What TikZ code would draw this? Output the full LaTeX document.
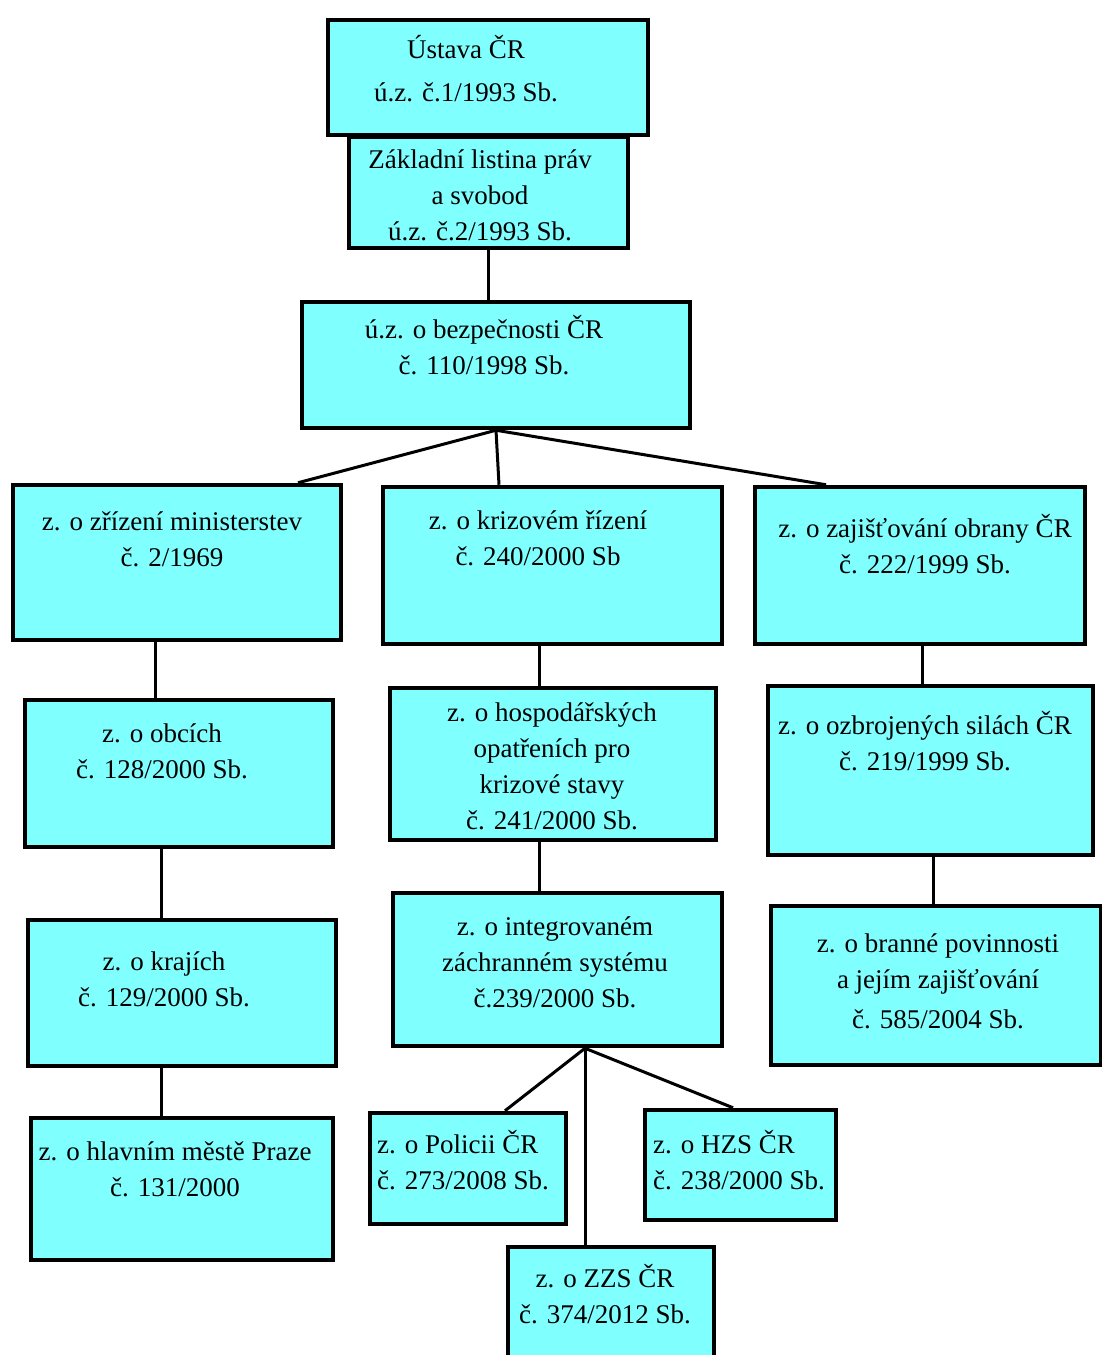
\documentclass[tikz,border=0pt]{standalone}
\usepackage{fontspec}
\setmainfont{Liberation Serif}
\definecolor{boxcyan}{RGB}{128,255,255}
\begin{document}
\begin{tikzpicture}[x=1pt,y=-1pt,
    box/.style={draw, line width=4.5pt, fill=boxcyan, inner sep=0pt},
    txt/.style={align=center, inner sep=0pt, font=\fontsize{27}{36}\selectfont},
    ltxt/.style={txt, align=left, anchor=west},
    link/.style={line width=3pt}]
  \useasboundingbox (0,0) rectangle (1102,1355);
  \clip (0,0) rectangle (1102,1355);
  \fill[white] (0,0) rectangle (1102,1355);

  % boxes
  \node[box, minimum width=320pt, minimum height=115pt] (ustava) at (488,77.5) {};
  \node[box, minimum width=279pt, minimum height=111pt] (listina) at (488.5,192.5) {};
  \node[box, minimum width=388pt, minimum height=126pt] (bezp) at (496,365) {};
  \node[box, minimum width=328pt, minimum height=155pt] (minist) at (177,562.5) {};
  \node[box, minimum width=339pt, minimum height=157pt] (krize) at (552.5,565.5) {};
  \node[box, minimum width=330pt, minimum height=157pt] (obrana) at (920,565.5) {};
  \node[box, minimum width=308pt, minimum height=147pt] (obce) at (179,773.5) {};
  \node[box, minimum width=308pt, minimum height=146pt] (kraje) at (182,993) {};
  \node[box, minimum width=302pt, minimum height=142pt] (praha) at (182,1189) {};
  \node[box, minimum width=326pt, minimum height=152pt] (hosp) at (553,764) {};
  \node[box, minimum width=329pt, minimum height=153pt] (izs) at (557.5,969.5) {};
  \node[box, minimum width=325pt, minimum height=169pt] (ozbr) at (930.5,770.5) {};
  \node[box, minimum width=330pt, minimum height=159pt] (branne) at (936,985.5) {};
  \node[box, minimum width=196pt, minimum height=111pt] (policie) at (468,1168.5) {};
  \node[box, minimum width=191pt, minimum height=110pt] (hzs) at (740.5,1165) {};
  \node[box, minimum width=206pt, minimum height=120pt] (zzs) at (611,1307) {};

  % texts
  \node[txt] (ustava-t) at (466,69) {Ústava ČR\\[7pt]ú.z. č.1/1993 Sb.};
  \node[txt] (listina-t) at (480,195) {Základní listina práv\\a svobod\\ú.z. č.2/1993 Sb.};
  \node[txt] (bezp-t) at (484,345) {ú.z. o bezpečnosti ČR\\č. 110/1998 Sb.};
  \node[txt] (minist-t) at (172,539) {z. o zřízení ministerstev\\č. 2/1969};
  \node[txt] (krize-t) at (538,538) {z. o krizovém řízení\\č. 240/2000 Sb};
  \node[txt] (obrana-t) at (925,544) {z. o zajišťování obrany ČR\\č. 222/1999 Sb.};
  \node[txt] (obce-t) at (162,751) {z. o obcích\\č. 128/2000 Sb.};
  \node[txt] (kraje-t) at (164,979) {z. o krajích\\č. 129/2000 Sb.};
  \node[txt] (praha-t) at (175,1169) {z. o hlavním městě Praze\\č. 131/2000};
  \node[txt] (hosp-t) at (552,766) {z. o hospodářských\\opatřeních pro\\krizové stavy\\č. 241/2000 Sb.};
  \node[txt] (izs-t) at (555,962) {z. o integrovaném\\záchranném systému\\č.239/2000 Sb.};
  \node[txt] (ozbr-t) at (925,741) {z. o ozbrojených silách ČR\\č. 219/1999 Sb.};
  \node[txt] (branne-t) at (938,981) {z. o branné povinnosti\\a jejím zajišťování\\[4pt]č. 585/2004 Sb.};
  \node[ltxt] (policie-t) at (377,1160) {z. o Policii ČR\\č. 273/2008 Sb.};
  \node[ltxt] (hzs-t) at (653,1160) {z. o HZS ČR\\č. 238/2000 Sb.};
  \node[txt] (zzs-t) at (605,1294) {z. o ZZS ČR\\č. 374/2012 Sb.};

  % connectors
  \draw[link] (listina.south) -- (listina.south |- bezp.north);
  \draw[link] (bezp.south) -- (minist.north -| 298,0);
  \draw[link] (bezp.south) -- (krize.north -| 499,0);
  \draw[link] (bezp.south) -- (obrana.north -| 826,0);
  \draw[link] (minist.south -| 155,0) -- (obce.north -| 155,0);
  \draw[link] (obce.south -| 161,0) -- (kraje.north -| 161,0);
  \draw[link] (kraje.south -| 161,0) -- (praha.north -| 161,0);
  \draw[link] (krize.south -| 539,0) -- (hosp.north -| 539,0);
  \draw[link] (hosp.south -| 539,0) -- (izs.north -| 539,0);
  \draw[link] (izs.south -| 585,0) -- (policie.north -| 505,0);
  \draw[link] (izs.south -| 585,0) -- (zzs.north -| 585,0);
  \draw[link] (izs.south -| 585,0) -- (hzs.north -| 733,0);
  \draw[link] (obrana.south -| 922,0) -- (ozbr.north -| 922,0);
  \draw[link] (ozbr.south -| 933,0) -- (branne.north -| 933,0);
\end{tikzpicture}
\end{document}
